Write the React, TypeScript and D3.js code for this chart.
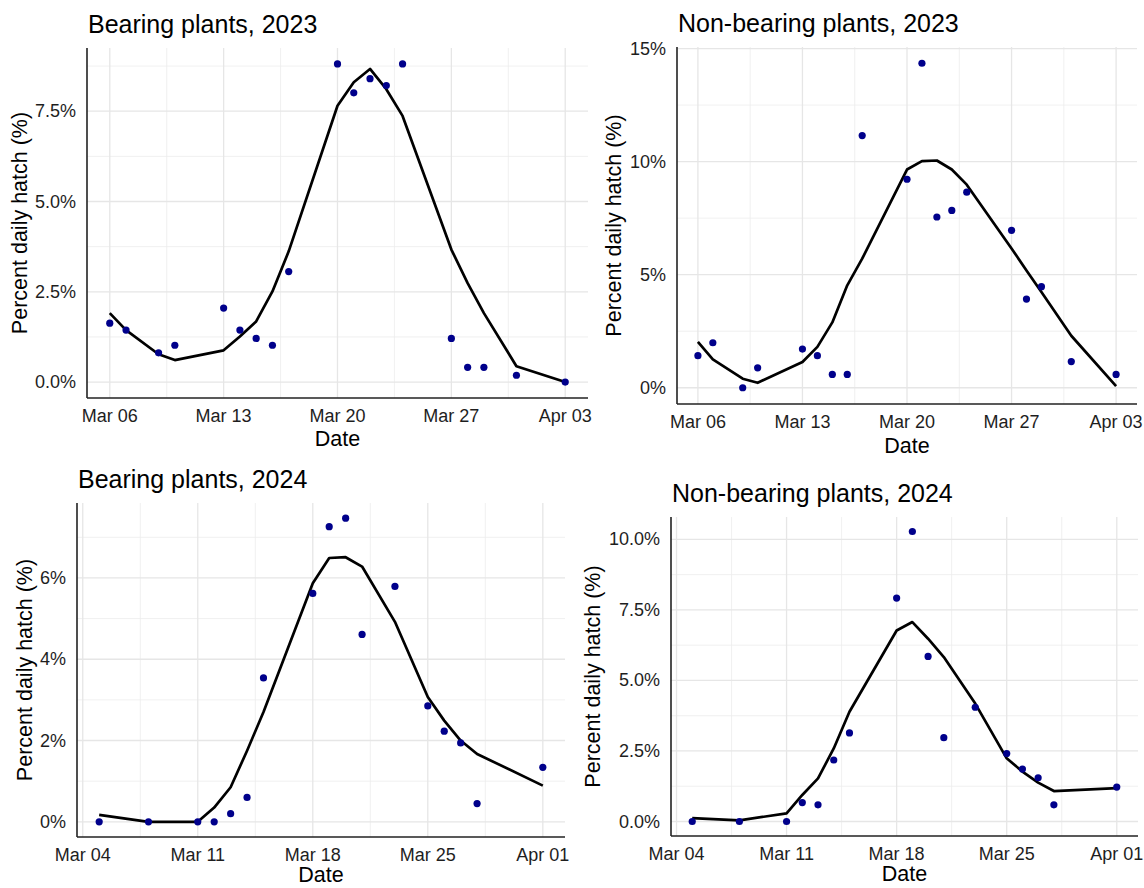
import React from 'react';
import * as d3 from 'd3';

// observation dates (points and fitted curve share them)
const dates2023 = ["2023-03-06", "2023-03-07", "2023-03-09", "2023-03-10", "2023-03-13", "2023-03-14", "2023-03-15", "2023-03-16", "2023-03-17", "2023-03-20", "2023-03-21", "2023-03-22", "2023-03-23", "2023-03-24", "2023-03-27", "2023-03-28", "2023-03-29", "2023-03-31", "2023-04-03"];
const dates2024 = ["2024-03-05", "2024-03-08", "2024-03-11", "2024-03-12", "2024-03-13", "2024-03-14", "2024-03-15", "2024-03-18", "2024-03-19", "2024-03-20", "2024-03-21", "2024-03-23", "2024-03-25", "2024-03-26", "2024-03-27", "2024-03-28", "2024-04-01"];

// percent daily hatch, observed
const bearing2023Obs = [1.63, 1.44, 0.81, 1.02, 2.05, 1.44, 1.21, 1.02, 3.06, 8.81, 8.01, 8.4, 8.21, 8.81, 1.21, 0.41, 0.41, 0.19, 0.0];
const nonBearing2023Obs = [1.42, 1.99, 0.0, 0.88, 1.71, 1.42, 0.59, 0.59, 11.15, 9.22, 14.35, 7.55, 7.84, 8.65, 6.96, 3.92, 4.47, 1.16, 0.59];
const bearing2024Obs = [0.0, 0.0, 0.0, 0.0, 0.2, 0.6, 3.54, 5.62, 7.26, 7.47, 4.61, 5.79, 2.85, 2.23, 1.94, 0.45, 1.34];
const nonBearing2024Obs = [0.0, 0.0, 0.0, 0.67, 0.59, 2.18, 3.14, 7.92, 10.28, 5.85, 2.97, 4.05, 2.41, 1.86, 1.55, 0.59, 1.22];

// fitted curve
const bearing2023Fit = [1.91, 1.44, 0.77, 0.61, 0.88, 1.26, 1.68, 2.51, 3.62, 7.65, 8.3, 8.67, 8.11, 7.37, 3.67, 2.74, 1.91, 0.44, 0.0];
const nonBearing2023Fit = [2.03, 1.26, 0.4, 0.22, 1.14, 1.81, 2.89, 4.53, 5.71, 9.65, 10.02, 10.05, 9.65, 8.98, 6.16, 5.19, 4.23, 2.3, 0.07];
const bearing2024Fit = [0.17, 0.0, 0.0, 0.35, 0.85, 1.75, 2.7, 5.87, 6.49, 6.51, 6.28, 4.92, 3.07, 2.49, 2.0, 1.67, 0.89];
const nonBearing2024Fit = [0.12, 0.04, 0.29, 0.94, 1.53, 2.59, 3.89, 6.77, 7.07, 6.48, 5.83, 4.18, 2.24, 1.77, 1.38, 1.08, 1.18];

const xTicks2023 = ["2023-03-06", "2023-03-13", "2023-03-20", "2023-03-27", "2023-04-03"];
const xTicks2024 = ["2024-03-04", "2024-03-11", "2024-03-18", "2024-03-25", "2024-04-01"];
const yTicksB23 = [0, 2.5, 5, 7.5];
const yTicksN23 = [0, 5, 10, 15];
const yTicksB24 = [0, 2, 4, 6];
const yTicksN24 = [0, 2.5, 5, 7.5, 10];

const parse = d3.utcParse("%Y-%m-%d");
const fmtDate = d3.utcFormat("%b %d");
const FONT = "'Liberation Sans', Arial, Helvetica, sans-serif";

type Box = { l: number; t: number; r: number; b: number };

function minorTicks(major: number[], lo: number, hi: number) {
  const step = major[1] - major[0];
  const out: number[] = [];
  for (let v = major[0] - step / 2; v <= major[major.length - 1] + step / 2 + 1e-9; v += step) {
    if (v >= lo && v <= hi) out.push(v);
  }
  return out;
}

const Panel = ({ title, dates, obs, fit, xTicks, yTicks, decimals, box, yTitleOff, dateOff }: any) => {
  const { l, t, r, b } = box as Box;
  const ds = dates.map((d: string) => parse(d)!);
  const x0 = +ds[0], x1 = +ds[ds.length - 1];
  const xPad = (x1 - x0) * 0.05;
  const x = d3.scaleUtc().domain([new Date(x0 - xPad), new Date(x1 + xPad)]).range([l, r]);

  const all = [...obs, ...fit];
  const yMin = d3.min(all)!, yMax = d3.max(all)!;
  const yPad = (yMax - yMin) * 0.05;
  const y = d3.scaleLinear().domain([yMin - yPad, yMax + yPad]).range([b, t]);

  const xMajor = xTicks.map((d: string) => +parse(d)!);
  const xMinor = minorTicks(xMajor, x0 - xPad, x1 + xPad);
  const yMinor = minorTicks(yTicks, yMin - yPad, yMax + yPad);

  const line = d3.line<number>()
    .x((_, i) => x(ds[i]))
    .y(d => y(d));

  return (
    <g>
      {xMinor.map((v, i) => (
        <line key={'xm' + i} x1={x(new Date(v))} x2={x(new Date(v))} y1={t} y2={b} stroke="#ececec" strokeWidth={0.8} />
      ))}
      {yMinor.map((v, i) => (
        <line key={'ym' + i} x1={l} x2={r} y1={y(v)} y2={y(v)} stroke="#ececec" strokeWidth={0.8} />
      ))}
      {xMajor.map((v: number, i: number) => (
        <line key={'xM' + i} x1={x(new Date(v))} x2={x(new Date(v))} y1={t} y2={b} stroke="#e6e6e6" strokeWidth={1.3} />
      ))}
      {yTicks.map((v: number, i: number) => (
        <line key={'yM' + i} x1={l} x2={r} y1={y(v)} y2={y(v)} stroke="#e6e6e6" strokeWidth={1.3} />
      ))}

      <path d={line(fit) || ''} fill="none" stroke="#000" strokeWidth={2.7} strokeLinejoin="round" />
      {obs.map((v: number, i: number) => (
        <circle key={'p' + i} cx={x(ds[i])} cy={y(v)} r={3.6} fill="#00008B" />
      ))}

      <line x1={l} x2={l} y1={t} y2={b} stroke="#222" strokeWidth={1.6} />
      <line x1={l} x2={r} y1={b} y2={b} stroke="#222" strokeWidth={1.6} />

      {xMajor.map((v: number, i: number) => (
        <text key={'xl' + i} x={x(new Date(v))} y={b + 18} textAnchor="middle" dominantBaseline="central"
          fontSize={18} fill="#1e1e1e" fontFamily={FONT}>{fmtDate(new Date(v))}</text>
      ))}
      {yTicks.map((v: number, i: number) => (
        <text key={'yl' + i} x={l - 11} y={y(v)} textAnchor="end" dominantBaseline="central"
          fontSize={18} fill="#1e1e1e" fontFamily={FONT}>{v.toFixed(decimals) + '%'}</text>
      ))}

      <text x={l + 1} y={t - 15} fontSize={25} fill="#000" fontFamily={FONT}>{title}</text>
      <text x={(l + r) / 2} y={b + dateOff} textAnchor="middle" dominantBaseline="central"
        fontSize={21.5} fill="#000" fontFamily={FONT}>Date</text>
      <text transform={`translate(${l - yTitleOff},${(t + b) / 2}) rotate(-90)`} textAnchor="middle"
        dominantBaseline="central" fontSize={21.5} fill="#000" fontFamily={FONT}>Percent daily hatch (%)</text>
    </g>
  );
};

const App = () => {
  return (
    <svg width={1144} height={888} style={{ position: 'absolute', left: 0, top: 0, background: '#fff' }}>
      <Panel title="Bearing plants, 2023" dates={dates2023} obs={bearing2023Obs} fit={bearing2023Fit}
        xTicks={xTicks2023} yTicks={yTicksB23} decimals={1} box={{ l: 87, t: 48, r: 588, b: 398 }} yTitleOff={67} dateOff={41} />
      <Panel title="Non-bearing plants, 2023" dates={dates2023} obs={nonBearing2023Obs} fit={nonBearing2023Fit}
        xTicks={xTicks2023} yTicks={yTicksN23} decimals={0} box={{ l: 677, t: 47, r: 1137, b: 404 }} yTitleOff={63} dateOff={42} />
      <Panel title="Bearing plants, 2024" dates={dates2024} obs={bearing2024Obs} fit={bearing2024Fit}
        xTicks={xTicks2024} yTicks={yTicksB24} decimals={0} box={{ l: 77, t: 503, r: 565, b: 837 }} yTitleOff={52} dateOff={38} />
      <Panel title="Non-bearing plants, 2024" dates={dates2024} obs={nonBearing2024Obs} fit={nonBearing2024Fit}
        xTicks={xTicks2024} yTicks={yTicksN24} decimals={1} box={{ l: 671, t: 517, r: 1138, b: 836 }} yTitleOff={78} dateOff={38} />
    </svg>
  );
};

export default App;
